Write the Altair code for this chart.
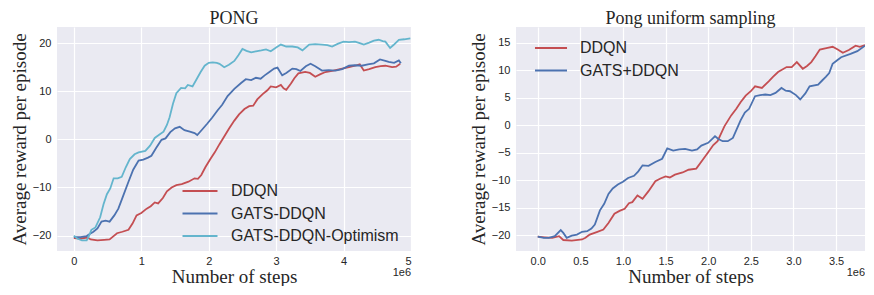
import altair as alt
import pandas as pd

# ---------------- data ----------------
# Left panel: PONG  (x in units of 1e6 steps)
pong_ddqn_x = [0, 0.1, 0.2, 0.25, 0.35, 0.45, 0.53, 0.58, 0.64, 0.72, 0.81, 0.87, 0.93, 1.0, 1.08, 1.14,
               1.2, 1.25, 1.32, 1.38, 1.45, 1.52, 1.6, 1.7, 1.79, 1.84, 1.89, 1.95, 2.02, 2.09, 2.16, 2.23,
               2.3, 2.38, 2.45, 2.53, 2.6, 2.66, 2.72, 2.8, 2.87, 2.92, 3.0, 3.07, 3.11, 3.15, 3.22, 3.27,
               3.33, 3.43, 3.5, 3.58, 3.65, 3.73, 3.85, 3.98, 4.08, 4.17, 4.24, 4.3, 4.38, 4.47, 4.55,
               4.62, 4.72, 4.78, 4.84]
pong_ddqn_y = [-20.5, -20.6, -20.4, -20.8, -21.0, -20.9, -20.8, -20.2, -19.5, -19.2, -18.8, -17.5, -15.8,
               -15.3, -14.4, -13.9, -13.1, -13.3, -12.2, -10.8, -10.0, -9.5, -9.3, -8.8, -8.1, -8.2, -7.4,
               -5.8, -4.2, -2.7, -1.0, 0.6, 2.2, 3.9, 5.2, 6.3, 6.9, 7.0, 8.3, 9.4, 10.2, 11.0, 10.8, 11.3,
               10.6, 10.3, 11.6, 12.7, 13.7, 14.0, 13.8, 13.0, 13.5, 14.0, 14.3, 14.7, 15.0, 15.3, 15.6,
               14.3, 14.6, 15.0, 15.2, 15.3, 15.0, 15.1, 15.7]

pong_gats_x = [0, 0.1, 0.19, 0.24, 0.29, 0.35, 0.41, 0.47, 0.53, 0.6, 0.66, 0.73, 0.81, 0.88, 0.96, 1.03,
               1.1, 1.15, 1.22, 1.3, 1.36, 1.43, 1.5, 1.57, 1.64, 1.72, 1.79, 1.83, 1.9, 1.98, 2.05, 2.13,
               2.2, 2.28, 2.38, 2.48, 2.55, 2.63, 2.7, 2.77, 2.83, 2.9, 2.97, 3.02, 3.09, 3.15, 3.24, 3.3,
               3.36, 3.44, 3.51, 3.58, 3.68, 3.78, 3.88, 3.98, 4.08, 4.17, 4.27, 4.36, 4.45, 4.54, 4.62,
               4.67, 4.75, 4.82, 4.85]
pong_gats_y = [-20.3, -20.3, -20.1, -19.6, -19.2, -18.5, -17.1, -16.9, -17.1, -15.8, -14.4, -11.8, -8.8,
               -6.3, -4.4, -4.2, -3.8, -3.4, -1.8, -0.1, 0.2, 1.5, 2.3, 2.6, 1.9, 1.6, 1.3, 0.9, 2.0, 3.3,
               4.5, 6.0, 7.2, 9.0, 10.5, 11.7, 12.5, 12.3, 12.8, 12.6, 13.3, 14.0, 14.7, 14.9, 13.3, 13.8,
               14.7, 14.6, 14.2, 15.2, 15.7, 15.2, 14.3, 14.4, 14.3, 14.6, 15.3, 15.4, 15.3, 15.6, 15.8,
               16.6, 16.3, 16.1, 15.9, 16.4, 15.8]

pong_opt_x = [0, 0.05, 0.12, 0.19, 0.22, 0.26, 0.32, 0.39, 0.44, 0.49, 0.54, 0.59, 0.65, 0.71, 0.77, 0.83,
              0.9, 0.96, 1.06, 1.13, 1.2, 1.27, 1.33, 1.38, 1.42, 1.47, 1.52, 1.59, 1.65, 1.69, 1.76, 1.82,
              1.88, 1.94, 2.0, 2.06, 2.12, 2.16, 2.23, 2.3, 2.38, 2.44, 2.5, 2.56, 2.63, 2.7, 2.78, 2.85,
              2.92, 3.0, 3.07, 3.15, 3.24, 3.32, 3.39, 3.49, 3.58, 3.68, 3.76, 3.83, 3.92, 4.0, 4.08, 4.17,
              4.24, 4.3, 4.38, 4.45, 4.52, 4.58, 4.62, 4.69, 4.74, 4.82, 4.9, 4.99]
pong_opt_y = [-20.0, -20.6, -21.0, -21.0, -20.2, -18.8, -18.3, -16.2, -13.5, -11.4, -10.2, -8.1, -8.1,
              -7.8, -5.8, -4.1, -3.1, -2.7, -2.4, -1.3, 0.3, 1.0, 1.6, 3.0, 4.6, 7.4, 9.6, 10.7, 10.6,
              11.3, 11.0, 12.5, 14.0, 15.3, 15.9, 16.0, 15.9, 15.7, 15.0, 15.5, 16.3, 17.5, 18.8, 18.4,
              18.1, 18.3, 18.5, 18.7, 18.3, 19.1, 19.7, 19.3, 19.3, 19.1, 18.5, 19.7, 19.8, 19.7, 19.6,
              19.3, 19.9, 20.3, 20.2, 20.3, 20.0, 19.7, 20.1, 20.5, 20.7, 20.4, 20.3, 19.0, 19.6, 20.7,
              20.8, 21.0]

# Right panel: Pong uniform sampling
uni_ddqn_x = [0, 0.08, 0.17, 0.25, 0.3, 0.4, 0.52, 0.56, 0.61, 0.7, 0.77, 0.83, 0.9, 0.96, 1.02, 1.07,
              1.11, 1.17, 1.23, 1.3, 1.38, 1.44, 1.5, 1.55, 1.61, 1.7, 1.77, 1.86, 1.93, 2.0, 2.06, 2.11,
              2.19, 2.27, 2.33, 2.38, 2.44, 2.5, 2.55, 2.63, 2.71, 2.76, 2.82, 2.92, 2.98, 3.04, 3.11,
              3.16, 3.21, 3.26, 3.31, 3.4, 3.46, 3.52, 3.58, 3.65, 3.73, 3.78, 3.84]
uni_ddqn_y = [-20.3, -20.4, -20.5, -20.2, -20.9, -21.0, -20.8, -20.5, -19.9, -19.4, -19.0, -17.8, -16.1,
              -15.6, -15.2, -14.2, -14.0, -12.8, -13.4, -12.0, -10.2, -9.7, -9.3, -9.5, -9.0, -8.6, -8.1,
              -7.9, -6.4, -4.9, -3.6, -2.9, -0.2, 1.8, 3.0, 4.2, 5.4, 6.2, 7.1, 6.8, 8.0, 8.8, 9.7, 10.6,
              10.6, 11.5, 10.3, 10.8, 11.5, 12.6, 13.8, 14.1, 14.3, 13.8, 13.2, 13.7, 14.5, 14.3, 14.6]

uni_gats_x = [0, 0.07, 0.13, 0.2, 0.27, 0.3, 0.34, 0.4, 0.46, 0.52, 0.58, 0.63, 0.67, 0.73, 0.78, 0.83,
              0.88, 0.94, 1.0, 1.06, 1.13, 1.18, 1.23, 1.3, 1.38, 1.46, 1.52, 1.59, 1.66, 1.73, 1.81, 1.87,
              1.92, 2.0, 2.06, 2.08, 2.12, 2.17, 2.23, 2.29, 2.33, 2.38, 2.43, 2.48, 2.55, 2.61, 2.67,
              2.73, 2.79, 2.86, 2.91, 2.96, 3.03, 3.08, 3.14, 3.19, 3.29, 3.34, 3.38, 3.42, 3.46, 3.51,
              3.56, 3.67, 3.75, 3.84]
uni_gats_y = [-20.3, -20.5, -20.5, -20.2, -19.1, -19.6, -20.5, -20.1, -19.9, -19.4, -19.3, -18.8, -18.1,
              -15.5, -14.3, -12.5, -11.5, -10.8, -10.3, -9.6, -9.2, -8.4, -7.3, -7.4, -6.7, -6.1, -4.2,
              -4.6, -4.4, -4.3, -4.6, -4.4, -3.7, -3.2, -2.3, -2.0, -2.5, -2.9, -2.9, -2.3, -0.9, 0.9,
              2.3, 3.0, 5.3, 5.5, 5.6, 5.5, 5.9, 6.8, 6.3, 6.2, 5.5, 4.7, 5.8, 7.1, 7.4, 8.2, 8.8, 9.5,
              11.2, 11.8, 12.4, 13.0, 13.5, 14.5]

left_series = ["DDQN", "GATS-DDQN", "GATS-DDQN-Optimism"]
left_colors = ["#C44E52", "#4C72B0", "#64B5CD"]
right_series = ["DDQN", "GATS+DDQN"]
right_colors = ["#C44E52", "#4C72B0"]

left_yticks = [-20, -10, 0, 10, 20]
left_xticks = [0, 1, 2, 3, 4, 5]
right_yticks = [-20, -15, -10, -5, 0, 5, 10, 15]
right_xticks = [0.0, 0.5, 1.0, 1.5, 2.0, 2.5, 3.0, 3.5]

# ---------------- tables ----------------
def table(parts):
    rows = []
    for name, xs, ys in parts:
        for i, (a, b) in enumerate(zip(xs, ys)):
            rows.append({"series": name, "x": a, "y": b, "i": i})
    return pd.DataFrame(rows)

left_df = table([("DDQN", pong_ddqn_x, pong_ddqn_y),
                 ("GATS-DDQN", pong_gats_x, pong_gats_y),
                 ("GATS-DDQN-Optimism", pong_opt_x, pong_opt_y)])
right_df = table([("DDQN", uni_ddqn_x, uni_ddqn_y),
                  ("GATS+DDQN", uni_gats_x, uni_gats_y)])

SERIF = "Liberation Serif"
SANS = "Liberation Sans"
INK = "#262626"
H = 224


def panel(df, names, colors, W, xdom, xticks, xfmt, ydom, yticks, title, lx, ly, sym, loff):
    lines = alt.Chart(df).mark_line(strokeWidth=1.8, clip=True).encode(
        x=alt.X("x:Q", scale=alt.Scale(domain=xdom, nice=False, zero=False),
                axis=alt.Axis(values=xticks, format=xfmt, title="Number of steps")),
        y=alt.Y("y:Q", scale=alt.Scale(domain=ydom, nice=False, zero=False),
                axis=alt.Axis(values=yticks, format="d", title="Average reward per episode")),
        color=alt.Color("series:N", scale=alt.Scale(domain=names, range=colors),
                        legend=alt.Legend(orient="none", legendX=lx, legendY=ly, title=None,
                                          symbolType="M-3,0L3,0", symbolSize=sym, symbolStrokeWidth=2,
                                          labelFont=SANS, labelFontSize=16, labelColor=INK,
                                          labelLimit=400, labelOffset=loff, rowPadding=6.5, padding=0)),
        order="i:Q",
    )
    off = alt.Chart(pd.DataFrame({"t": ["1e6"]})).mark_text(
        align="right", baseline="middle", font=SANS, fontSize=11, color=INK
    ).encode(x=alt.value(W), y=alt.value(H + 22), text="t:N")
    return alt.layer(lines, off).properties(
        width=W, height=H,
        title=alt.TitleParams(title, font=SERIF, fontSize=18, fontWeight="normal", color=INK, offset=-1),
    )


left = panel(left_df, left_series, left_colors, 354, [-0.25, 5.0], left_xticks, "d",
             [-23.2, 23.35], left_yticks, "PONG", 135, 156, 136, 23)
right = panel(right_df, right_series, right_colors, 349, [-0.255, 3.84], right_xticks, ".1f",
              [-22.9, 17.9], right_yticks, "Pong uniform sampling", 27, 13, 114, 21)

chart = alt.hconcat(left, right, spacing=58).resolve_scale(
    color="independent", x="independent", y="independent"
).configure(padding={"left": 2, "top": 2, "right": 0, "bottom": 0}).configure_view(
    fill="#EAEAF2", strokeWidth=0
).configure_axis(
    domain=False, ticks=False, gridColor="white", gridWidth=1.2,
    labelFont=SANS, labelFontSize=11, labelColor=INK, labelPadding=6,
    titleFont=SERIF, titleFontSize=19, titleFontWeight="normal", titleColor=INK,
).configure_axisX(titlePadding=1, labelPadding=4).configure_axisY(titlePadding=3)

chart.save("out.html", embed_options={"renderer": "svg", "actions": False})
